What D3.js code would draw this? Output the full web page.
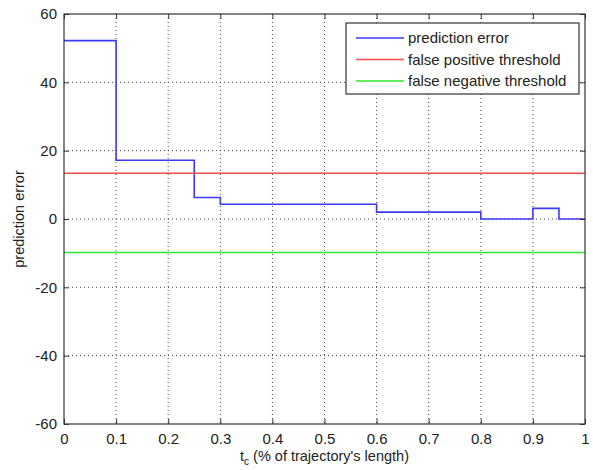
<!DOCTYPE html>
<html><head><meta charset="utf-8">
<script src="https://cdn.jsdelivr.net/npm/d3@7"></script>
<style>body{margin:0;background:#fff}svg{display:block}text{font-family:"Liberation Sans",Arial,sans-serif}</style>
</head><body><svg id="c" width="593" height="470"></svg>
<script>
const stepX = [0, 0.1, 0.25, 0.3, 0.6, 0.8, 0.9, 0.95, 1];
const stepY = [52.2, 17.2, 6.3, 4.3, 2.0, 0.0, 3.1, 0.0];
const fpThreshold = 13.4;
const fnThreshold = -9.8;
const xTicks = [0, 0.1, 0.2, 0.3, 0.4, 0.5, 0.6, 0.7, 0.8, 0.9, 1];
const yTicks = [-60, -40, -20, 0, 20, 40, 60];
const legendLabels = ["prediction error", "false positive threshold", "false negative threshold"];
const colors = ["#3a3aff", "#ff4a4a", "#2ee62e"];

const svg = d3.select("#c");
const L = 64, R = 585, T = 14, B = 424;
const x = d3.scaleLinear().domain([0, 1]).range([L, R]);
const y = d3.scaleLinear().domain([-60, 60]).range([B, T]);

// grid
const g = svg.append("g");
xTicks.slice(1, -1).forEach(v => g.append("line").attr("x1", x(v)).attr("x2", x(v)).attr("y1", T).attr("y2", B)
  .attr("stroke", "#444").attr("stroke-width", 1).attr("stroke-dasharray", "1,3"));
yTicks.slice(1, -1).forEach(v => g.append("line").attr("y1", y(v)).attr("y2", y(v)).attr("x1", L).attr("x2", R)
  .attr("stroke", "#444").attr("stroke-width", 1).attr("stroke-dasharray", "1,3"));

// data
const pts = [];
stepY.forEach((v, i) => { pts.push([stepX[i], v]); pts.push([stepX[i + 1], v]); });
const line = d3.line().x(d => x(d[0])).y(d => y(d[1]));
svg.append("path").datum(pts).attr("d", line).attr("fill", "none").attr("stroke", colors[0]).attr("stroke-width", 1.6);
svg.append("path").datum([[0, fpThreshold], [1, fpThreshold]]).attr("d", line).attr("fill", "none").attr("stroke", colors[1]).attr("stroke-width", 1.6);
svg.append("path").datum([[0, fnThreshold], [1, fnThreshold]]).attr("d", line).attr("fill", "none").attr("stroke", colors[2]).attr("stroke-width", 1.6);

// axes
const axStyle = sel => { sel.select(".domain").remove(); sel.selectAll("line").attr("stroke", "#333"); sel.selectAll("text").attr("font-size", 15).attr("fill", "#222"); };
svg.append("g").attr("transform", `translate(0,${B})`).call(d3.axisBottom(x).tickValues(xTicks).tickSize(-5).tickPadding(9).tickFormat(d => String(d))).call(axStyle);
svg.append("g").attr("transform", `translate(0,${T})`).call(d3.axisTop(x).tickValues(xTicks).tickSize(-5).tickFormat("")).call(axStyle);
svg.append("g").attr("transform", `translate(${L},0)`).call(d3.axisLeft(y).tickValues(yTicks).tickSize(-5).tickPadding(7).tickFormat(d => String(d))).call(axStyle);
svg.append("g").attr("transform", `translate(${R},0)`).call(d3.axisRight(y).tickValues(yTicks).tickSize(-5).tickFormat("")).call(axStyle);
svg.append("rect").attr("x", L).attr("y", T).attr("width", R - L).attr("height", B - T).attr("fill", "none").attr("stroke", "#333").attr("stroke-width", 1.2);

// labels
const xl = svg.append("text").attr("x", (L + R) / 2).attr("y", 461).attr("text-anchor", "middle").attr("font-size", 14.5).attr("fill", "#222");
xl.append("tspan").text("t");
xl.append("tspan").attr("font-size", 10).attr("dy", 4).text("c");
xl.append("tspan").attr("dy", -4).text(" (% of trajectory's length)");
svg.append("text").attr("transform", `translate(24,${(T + B) / 2}) rotate(-90)`).attr("text-anchor", "middle").attr("font-size", 14.5).attr("fill", "#222").text("prediction error");

// legend
const lg = svg.append("g");
lg.append("rect").attr("x", 346).attr("y", 23).attr("width", 233).attr("height", 71).attr("fill", "#fff").attr("stroke", "#333").attr("stroke-width", 1.2);
legendLabels.forEach((t, i) => {
  const yy = 38 + i * 21.5;
  lg.append("line").attr("x1", 356).attr("x2", 404).attr("y1", yy).attr("y2", yy).attr("stroke", colors[i]).attr("stroke-width", 1.6);
  lg.append("text").attr("x", 408).attr("y", yy + 5).attr("font-size", 15).attr("fill", "#222").text(t);
});
</script></body></html>
